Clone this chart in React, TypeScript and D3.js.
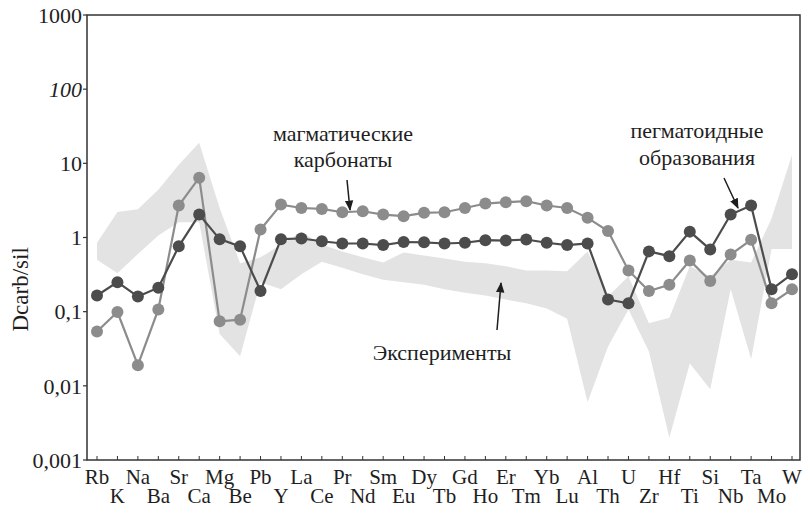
import React from "react";
import * as d3 from "d3";

// element order along the x axis
const elements: string[] = [
  "Rb", "K", "Na", "Ba", "Sr", "Ca", "Mg", "Be", "Pb", "Y", "La", "Ce", "Pr", "Nd", "Sm", "Eu", "Dy", "Tb",
  "Gd", "Ho", "Er", "Tm", "Yb", "Lu", "Al", "Th", "U", "Zr", "Hf", "Ti", "Si", "Nb", "Ta", "Mo", "W",
];

// пегматоидные образования (dark line)
const pegmatoid: number[] = [
  0.165, 0.25, 0.16, 0.21, 0.76, 2.04, 0.95, 0.76, 0.19, 0.95, 0.97, 0.89, 0.83, 0.83, 0.79, 0.87, 0.86, 0.83,
  0.85, 0.92, 0.91, 0.94, 0.85, 0.79, 0.83, 0.146, 0.13, 0.65, 0.56, 1.2, 0.69, 2.04, 2.7, 0.2, 0.32,
];

// магматические карбонаты (light line)
const carbonates: number[] = [
  0.054, 0.099, 0.019, 0.107, 2.7, 6.4, 0.074, 0.078, 1.28, 2.78, 2.5, 2.43, 2.19, 2.26, 2.04, 1.94, 2.15, 2.19,
  2.5, 2.87, 2.99, 3.09, 2.7, 2.5, 1.84, 1.22, 0.36, 0.19, 0.23, 0.49, 0.26, 0.59, 0.93, 0.13, 0.2,
];

// Эксперименты (grey band), upper and lower edges
const bandHigh: number[] = [
  0.85, 2.2, 2.4, 4.4, 9.6, 19, 2.5, 0.45, 0.54, 0.8, 1.2, 0.8, 0.65, 0.54, 0.46, 0.63, 0.57, 0.52,
  0.47, 0.45, 0.41, 0.36, 0.36, 0.35, 0.65, 0.16, 0.3, 0.07, 0.083, 0.41, 0.3, 0.5, 0.46, 1.8, 13,
];
const bandLow: number[] = [
  0.5, 0.33, 0.6, 1.06, 1.6, 1.6, 0.05, 0.025, 0.25, 0.2, 0.32, 0.47, 0.39, 0.32, 0.27, 0.25, 0.23, 0.2,
  0.18, 0.165, 0.146, 0.13, 0.11, 0.08, 0.006, 0.034, 0.107, 0.029, 0.002, 0.02, 0.009, 0.2, 0.023, 0.7, 0.7,
];

const yTicks: number[] = [1000, 100, 10, 1, 0.1, 0.01, 0.001];
const yTickLabels: string[] = ["1000", "100", "10", "1", "0,1", "0,01", "0,001"];

const App: React.FC = () => {
  const width = 803;
  const height = 514;
  const left = 87;
  const right = 800;
  const top = 15;
  const bottom = 460;
  const font = "Liberation Serif, DejaVu Serif, serif";

  const x = d3.scalePoint<string>().domain(elements).range([97, 792]);
  const y = d3.scaleLog().domain([0.001, 1000]).range([bottom, top]);

  const line = d3.line<number>()
    .x((_, i) => x(elements[i])!)
    .y(d => y(d));

  const area = d3.area<number>()
    .x((_, i) => x(elements[i])!)
    .y0((_, i) => y(bandLow[i]))
    .y1(d => y(d));

  const darkCol = "#4c4c4c";
  const lightCol = "#8c8c8c";
  const ink = "#1e1e1e";

  return (
    <svg width={width} height={height} style={{ position: "absolute", left: 0, top: 0, fontFamily: font }}>
      <defs>
        <marker id="ah" viewBox="0 0 10 10" refX="9" refY="5" markerWidth="7" markerHeight="7" orient="auto">
          <path d="M0,1 L10,5 L0,9 Z" fill={ink} />
        </marker>
      </defs>
      <rect width={width} height={height} fill="#fff" />

      {/* experiments band */}
      <path d={area(bandHigh)!} fill="#e3e3e3" />

      {/* series */}
      <path d={line(carbonates)!} fill="none" stroke={lightCol} strokeWidth={2.2} />
      {carbonates.map((d, i) => (
        <circle key={`c${i}`} cx={x(elements[i])} cy={y(d)} r={6} fill={lightCol} />
      ))}
      <path d={line(pegmatoid)!} fill="none" stroke={darkCol} strokeWidth={2.2} />
      {pegmatoid.map((d, i) => (
        <circle key={`p${i}`} cx={x(elements[i])} cy={y(d)} r={6} fill={darkCol} />
      ))}

      {/* frame */}
      <rect x={left} y={top} width={right - left} height={bottom - top} fill="none" stroke="#333" strokeWidth={1.5} />

      {/* y axis */}
      {yTicks.map((t, i) => (
        <g key={`yt${i}`}>
          <line x1={left - 4} x2={left} y1={y(t)} y2={y(t)} stroke="#333" strokeWidth={1.2} />
          <text x={82} y={y(t)} dy="0.35em" textAnchor="end" fontSize={22} fill={ink}
            fontStyle={t === 100 ? "italic" : "normal"}>
            {yTickLabels[i]}
          </text>
        </g>
      ))}
      <text transform={`translate(28,${y(0.2)}) rotate(-90)`} textAnchor="middle" fontSize={23} fill={ink}>
        Dcarb/sil
      </text>

      {/* x axis */}
      {elements.map((el, i) => (
        <g key={`xt${el}`}>
          <line x1={x(el)} x2={x(el)} y1={bottom} y2={bottom - 4} stroke="#333" strokeWidth={1} />
          <text x={x(el)} y={i % 2 === 0 ? 484 : 503} textAnchor="middle" fontSize={21} fill={ink}>
            {el}
          </text>
        </g>
      ))}

      {/* annotations */}
      <text x={343} y={141} textAnchor="middle" fontSize={22} fill={ink}>магматические</text>
      <text x={343} y={167} textAnchor="middle" fontSize={22} fill={ink}>карбонаты</text>
      <line x1={347} y1={180} x2={350} y2={210} stroke={ink} strokeWidth={1.5} markerEnd="url(#ah)" />

      <text x={697} y={138} textAnchor="middle" fontSize={22} fill={ink}>пегматоидные</text>
      <text x={697} y={165} textAnchor="middle" fontSize={22} fill={ink}>образования</text>
      <line x1={724} y1={178} x2={738} y2={208} stroke={ink} strokeWidth={1.5} markerEnd="url(#ah)" />

      <text x={442} y={360} textAnchor="middle" fontSize={22} fill={ink}>Эксперименты</text>
      <line x1={497} y1={330} x2={501} y2={283} stroke={ink} strokeWidth={1.5} markerEnd="url(#ah)" />
    </svg>
  );
};

export default App;
